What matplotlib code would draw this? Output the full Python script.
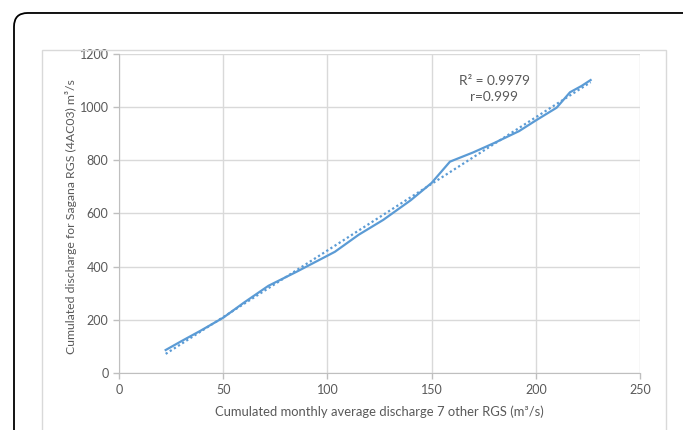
#!/usr/bin/env python3
import numpy as np
import matplotlib
matplotlib.use('Agg')
import matplotlib.pyplot as plt
from matplotlib.patches import FancyBboxPatch, Rectangle

## Data (cumulated discharges)
x_other = [22.4, 30, 38.9, 50, 60, 71.7, 85, 99.7, 103.6, 115, 126.8, 140,
           150, 158.8, 170, 180, 192, 200, 210, 216.4, 222, 226.3]
y_sagana = [86.5, 120, 158, 208, 265, 328, 380, 440, 456, 520, 576, 650,
            715, 795, 830, 865, 910, 950, 998, 1056, 1080, 1102]
xticks = [0, 50, 100, 150, 200, 250]
yticks = [0, 200, 400, 600, 800, 1000, 1200]
annot = 'R² = 0.9979\nr=0.999'

## Style
blue = '#5B9BD5'
grey_text = '#595959'
grid_col = '#d9d9d9'
font = 'Lato'
plt.rcParams['font.family'] = [font, 'DejaVu Sans']

fig = plt.figure(figsize=(6.83, 4.30), dpi=100)

## Outer black rounded frame and light grey chart area border
fig.patches.append(FancyBboxPatch(
    (14/683, -0.1), 1.1, 0.9698 + 0.1,
    boxstyle='round,pad=0,rounding_size=0.02', mutation_aspect=683/430,
    transform=fig.transFigure, facecolor='none', edgecolor='black',
    linewidth=1.3, zorder=0))
fig.patches.append(Rectangle(
    (42/683, -0.1), (666-42)/683, (1 - 50/430) + 0.1,
    transform=fig.transFigure, facecolor='none', edgecolor=grid_col,
    linewidth=1.0, zorder=0))

ax = fig.add_axes([119/683, 1 - 373/430, (640-119)/683, (373-54)/430])
ax.plot(x_other, y_sagana, color=blue, linewidth=1.6, zorder=3)

## Linear trendline (dotted)
coef = np.polyfit(x_other, y_sagana, 1)
xt = np.array([min(x_other), max(x_other)])
ax.plot(xt, np.polyval(coef, xt), color=blue, linewidth=1.6,
        linestyle=(0, (1, 1.2)), zorder=2)

ax.set_xlim(0, 250)
ax.set_ylim(0, 1200)
ax.set_xticks(xticks)
ax.set_yticks(yticks)
ax.grid(True, color=grid_col, linewidth=1.0)
ax.set_axisbelow(True)
for side in ['top', 'right']:
    ax.spines[side].set_visible(False)
for side in ['left', 'bottom']:
    ax.spines[side].set_color('#bfbfbf')
ax.tick_params(colors='#bfbfbf', labelcolor=grey_text, labelsize=9,
               length=4, width=1.0)
ax.tick_params(axis='x', pad=4)

ax.set_xlabel('Cumulated monthly average discharge 7 other RGS (m³/s)',
              color=grey_text, fontsize=9.4, labelpad=7)
ax.set_ylabel('Cumulated discharge for Sagana RGS (4AC03) m³/s',
              color=grey_text, fontsize=8.8)
ax.yaxis.set_label_coords(-0.08, 0.49)

ax.text(180, 1068, annot, color=grey_text, fontsize=9.8, ha='center',
        va='center', linespacing=1.35)

fig.savefig('out.png', dpi=100)
